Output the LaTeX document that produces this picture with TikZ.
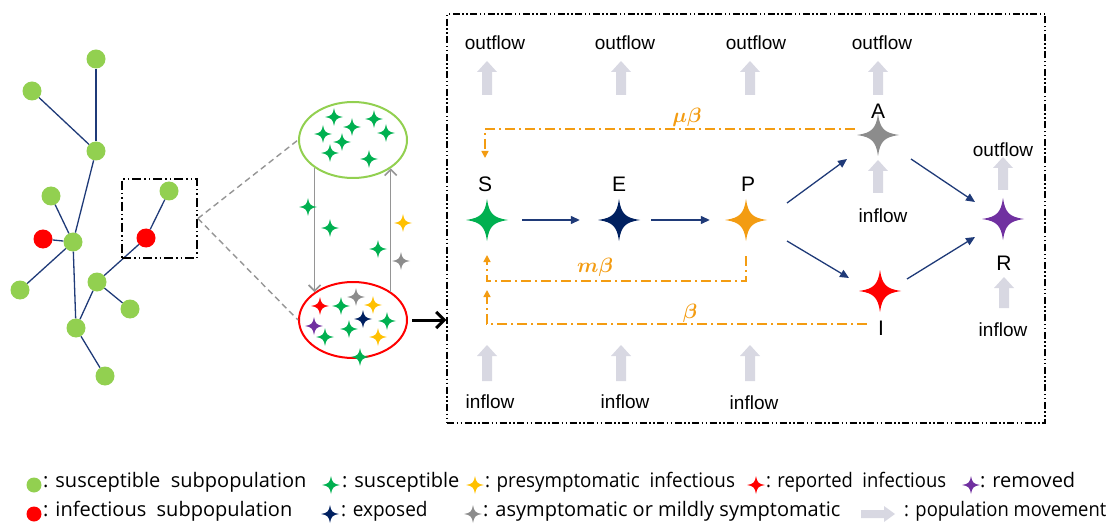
\documentclass[tikz,border=0pt]{standalone}
\usepackage{fontspec}
\usepackage{graphicx}
\usepackage{amsmath,bm}
\setmainfont{Liberation Sans}
\newfontfamily\legendfont{Open Sans}
\usetikzlibrary{arrows.meta,shapes.geometric,calc}

\definecolor{leafgreen}{HTML}{92D050}
\definecolor{stargreen}{HTML}{00B050}
\definecolor{navy}{HTML}{002060}
\definecolor{arrownavy}{HTML}{1F3A78}
\definecolor{porange}{HTML}{F39C12}
\definecolor{presym}{HTML}{FFC000}
\definecolor{asym}{HTML}{8C8C8C}
\definecolor{rem}{HTML}{7030A0}
\definecolor{flowgrey}{HTML}{D8D8E2}
\definecolor{linkgrey}{HTML}{959595}

\tikzset{
  % four-pointed star drawn inside an empty node
  spark/.style 2 args={shape=rectangle, inner sep=0pt, minimum size={2*#2+2},
    path picture={
      \begin{scope}[shift={(path picture bounding box.center)}, yscale=0.9]
        \fill[#1] (#2,0) .. controls ({0.3*#2},{0.1*#2}) and ({0.1*#2},{0.3*#2}) .. (0,#2)
          .. controls ({-0.1*#2},{0.3*#2}) and ({-0.3*#2},{0.1*#2}) .. (-#2,0)
          .. controls ({-0.3*#2},{-0.1*#2}) and ({-0.1*#2},{-0.3*#2}) .. (0,-#2)
          .. controls ({0.1*#2},{-0.3*#2}) and ({0.3*#2},{-0.1*#2}) .. cycle;
      \end{scope}}},
  subpop/.style={circle, fill=#1, minimum size=19, inner sep=0pt},
  treeedge/.style={draw=arrownavy, line width=1.3},
  zoomframe/.style={draw=black, line width=1.8,
    dash pattern=on 9pt off 3pt on 1.5pt off 3pt on 1.5pt off 3pt},
  bigframe/.style={draw=black, line width=1.5,
    dash pattern=on 7pt off 2.5pt on 1.5pt off 2.5pt on 1.5pt off 2.5pt},
  linkdash/.style={draw=linkgrey, line width=1.4, dash pattern=on 6pt off 4pt},
  moveline/.style={draw=linkgrey, line width=1.6, -{Straight Barb[length=6pt,width=12pt]}},
  trans/.style={draw=arrownavy, line width=1.3, -{Triangle[length=9pt,width=8pt]}},
  fb/.style={draw=porange, line width=1.5,
    dash pattern=on 10pt off 4pt on 2pt off 4pt, -{Triangle[length=7pt,width=7pt]}},
  fblabel/.style={text=porange, font=\fontsize{20}{22}\selectfont, inner sep=0pt},
  flowtxt/.style={font=\fontsize{19}{21}\selectfont, inner sep=0pt},
  statelbl/.style={font=\fontsize{21}{23}\selectfont, inner sep=0pt},
  legtxt/.style={font=\legendfont\fontsize{20}{22}\selectfont, inner sep=0pt,
    anchor=west, text height=0.75em, text depth=0.2em},
  pics/flowarrow/.style args={#1/#2/#3/#4}{code={
    \fill[flowgrey] (-#2,0) -- (-#2,{-(#1-#4)}) -- (-#3,{-(#1-#4)}) -- (0,-#1)
      -- (#3,{-(#1-#4)}) -- (#2,{-(#1-#4)}) -- (#2,0) -- cycle;}}
}

\begin{document}
\begin{tikzpicture}[x=1pt,y=-1pt]
\useasboundingbox (0,0) rectangle (1107,529);

% ---------------- metapopulation network ----------------
\node[subpop=leafgreen] (t1) at (96,59) {};
\node[subpop=leafgreen] (t2) at (32,91) {};
\node[subpop=leafgreen] (t3) at (96,151) {};
\node[subpop=leafgreen] (t4) at (51,196) {};
\node[subpop=red] (t5) at (43,239) {};
\node[subpop=leafgreen] (t6) at (73,242) {};
\node[subpop=leafgreen] (t7) at (169,191) {};
\node[subpop=red] (t8) at (146,238) {};
\node[subpop=leafgreen] (t9) at (20,290) {};
\node[subpop=leafgreen] (t10) at (97,282) {};
\node[subpop=leafgreen] (t11) at (130,309) {};
\node[subpop=leafgreen] (t12) at (76,328) {};
\node[subpop=leafgreen] (t13) at (105,376) {};
\draw[treeedge] (t1) -- (t3);
\draw[treeedge] (t2) -- (t3);
\draw[treeedge] (t3) -- (t6);
\draw[treeedge] (t4) -- (t6);
\draw[treeedge] (t5) -- (t6);
\draw[treeedge] (t6) -- (t9);
\draw[treeedge] (t6) -- (t12);
\draw[treeedge] (t12) -- (t10);
\draw[treeedge] (t10) -- (t11);
\draw[treeedge] (t10) -- (t8);
\draw[treeedge] (t8) -- (t7);
\draw[treeedge] (t12) -- (t13);

\node[zoomframe, minimum width=75, minimum height=79] (zoom) at (159.5,218.5) {};

% ---------------- two subpopulations ----------------
\node[ellipse, draw=leafgreen, line width=2, minimum width=108, minimum height=76] (popS) at (353,140) {};
\node[ellipse, draw=red, line width=2, minimum width=108, minimum height=76] (popR) at (353,320) {};
\draw[linkdash] (zoom.east) -- (popS.west);
\draw[linkdash] (zoom.east) -- (popR.west);
\draw[moveline] (popS.216) -- (popS.216 |- popR.144);
\draw[moveline] (popR.37) -- (popR.37 |- popS.-37);

% individuals inside the susceptible subpopulation
\foreach \p [count=\k] in {(334,117),(374,119),(352,127),(323,134),(386,133),(342,142),(330,153),(369,159)}
  \node[spark={stargreen}{9}] (g\k) at \p {};
% travellers
\node[spark={stargreen}{9}] (m1) at (308,207) {};
\node[spark={stargreen}{9}] (m2) at (330,228) {};
\node[spark={stargreen}{9}] (m3) at (378,249) {};
\node[spark={presym}{9}] (m4) at (403,223) {};
\node[spark={asym}{9}] (m5) at (401,261) {};
% individuals inside the infectious subpopulation
\node[spark={red}{9}] (r1) at (320,306) {};
\node[spark={stargreen}{9}] (r2) at (341,306) {};
\node[spark={asym}{9}] (r3) at (356,297) {};
\node[spark={presym}{9}] (r4) at (373,305) {};
\node[spark={rem}{9}] (r5) at (314,326) {};
\node[spark={navy}{9}] (r6) at (363,319) {};
\node[spark={stargreen}{9}] (r7) at (387,321) {};
\node[spark={stargreen}{9}] (r8) at (349,329) {};
\node[spark={stargreen}{9}] (r9) at (325,337) {};
\node[spark={presym}{9}] (r10) at (378,337) {};
\node[spark={stargreen}{9}] (r11) at (360,357) {};

% ---------------- compartment model ----------------
\node[bigframe, minimum width=598, minimum height=409] (seir) at (746,218.5) {};
\draw[line width=3, -{Straight Barb[length=8pt,width=16pt]}, shorten <=4] (popR.east) -- (popR.east -| seir.west);

\node[spark={stargreen}{21}] (S) at (487,220) {};
\node[spark={navy}{21}] (E) at (619,220) {};
\node[spark={porange}{21}] (P) at (746,220) {};
\node[spark={asym}{21}] (A) at (878,135) {};
\node[spark={red}{21}] (I) at (880,291) {};
\node[spark={rem}{21}] (R) at (1003,219) {};

\node[statelbl] (Slbl) at (485,184) {S};
\node[statelbl] (Elbl) at (619,184) {E};
\node[statelbl] (Plbl) at (748,184) {P};
\node[statelbl] (Albl) at (878,111) {A};
\node[statelbl] (Rlbl) at (1004,263) {R};
\node[statelbl] (Ilbl) at (881,328) {I};

\draw[trans, shorten <=13, shorten >=17] (S.east) -- (E.west);
\draw[trans, shorten <=10, shorten >=14] (E.east) -- (P.west);
\draw[trans] ($(P)+(41,-17)$) -- ($(A)+(-31,24)$);
\draw[trans] ($(P)+(41,21)$) -- ($(I)+(-31,-13)$);
\draw[trans] ($(A)+(33,24)$) -- ($(R)+(-28,-17)$);
\draw[trans] ($(I)+(27,-12)$) -- ($(R)+(-28,18)$);

% infection feedback
\draw[fb] ($(A)+(-23,-6)$) -| ($(S)+(-2,-62)$);
\draw[fb] ($(P)+(0,36)$) -- ($(P)+(0,61)$) -- ($(S)+(0,61)$) -- ($(S)+(0,35)$);
\draw[fb] ($(I)+(-13,33)$) -- ($(S)+(0,104)$) -- ($(S)+(0,70)$);
\node[fblabel] (mub) at (687,117) {$\bm{\mu\beta}$};
\node[fblabel] (mb) at (595,267) {$\bm{m\beta}$};
\node[fblabel] (b) at (690,313) {$\bm{\beta}$};

% population movement
\foreach \x in {487,621,750,878} \pic at (\x,95) {flowarrow=34/5/10/11};
\pic at (878,193) {flowarrow=33/5/10/11};
\pic at (1003,190) {flowarrow=33/5/10/11};
\pic at (1004,308) {flowarrow=31/5/10/11};
\foreach \x in {487,621,750} \pic at (\x,381) {flowarrow=36/5/10/11};

\node[flowtxt] (o1) at (495,43) {outflow};
\node[flowtxt] (o2) at (625,43) {outflow};
\node[flowtxt] (o3) at (756,43) {outflow};
\node[flowtxt] (o4) at (882,43) {outflow};
\node[flowtxt] (o5) at (1003,150) {outflow};
\node[flowtxt] (i1) at (883,216) {inflow};
\node[flowtxt] (i2) at (1003,330) {inflow};
\node[flowtxt] (i3) at (490,402) {inflow};
\node[flowtxt] (i4) at (625,402) {inflow};
\node[flowtxt] (i5) at (754,403) {inflow};

% ---------------- legend ----------------
\node[subpop=leafgreen, minimum size=15] (kS) at (34,485) {};
\node[legtxt] at (43,485) {: susceptible\ \ subpopulation};
\node[subpop=red, minimum size=15] (kI) at (34,514) {};
\node[legtxt] at (43,514) {: infectious\ \ subpopulation};
\node[spark={stargreen}{9}] (k1) at (331,485) {};
\node[legtxt] at (342,485) {: susceptible};
\node[spark={presym}{9}] (k2) at (475,485) {};
\node[legtxt] at (485,485) {\scalebox{0.94}[1]{: presymptomatic\ \ infectious}};
\node[spark={red}{9}] (k3) at (756,485) {};
\node[legtxt] at (766,485) {\scalebox{0.92}[1]{: reported\ \ infectious}};
\node[spark={rem}{9}] (k4) at (971,485) {};
\node[legtxt] at (980,485) {: removed};
\node[spark={navy}{9}] (k5) at (330,514) {};
\node[legtxt] at (341,514) {\scalebox{0.95}[1]{: exposed}};
\node[spark={asym}{9}] (k6) at (473,514) {};
\node[legtxt] at (483,514) {: asymptomatic or mildly symptomatic};
\pic[rotate=-90] at (861,514) {flowarrow=34/4/8/11};
\node[legtxt] at (904,514) {\scalebox{0.92}[1]{: population movement}};
\end{tikzpicture}
\end{document}
